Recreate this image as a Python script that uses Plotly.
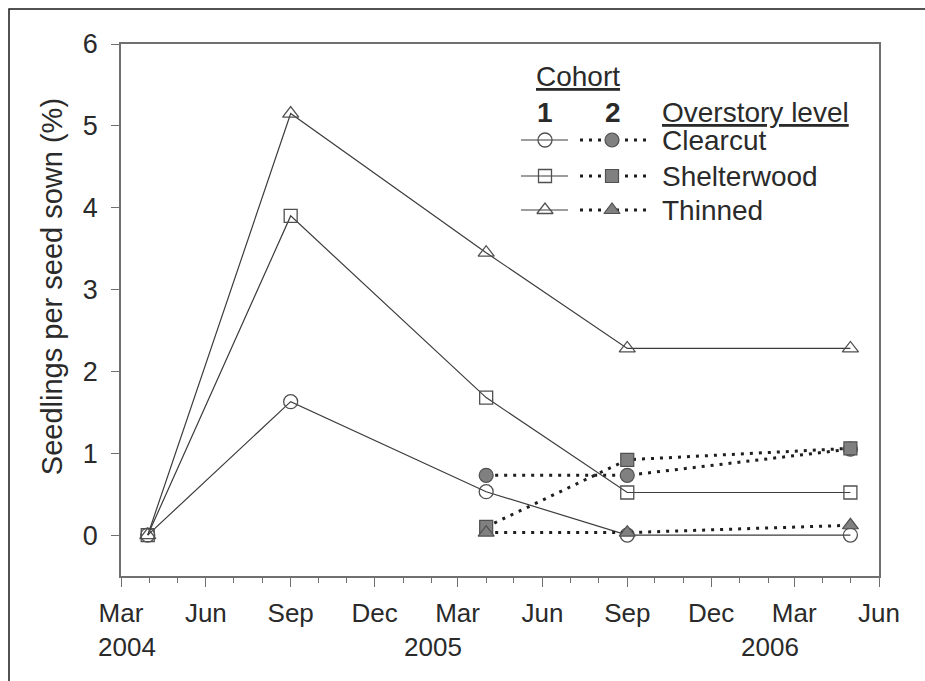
import plotly.graph_objects as go

# ---------------- data ----------------
dates_c1 = ["2004-03-30", "2004-09-01", "2005-04-01", "2005-09-01", "2006-05-01"]
dates_c2 = ["2005-04-01", "2005-09-01", "2006-05-01"]

clearcut_c1 = [0, 1.63, 0.53, 0.0, 0.0]
shelterwood_c1 = [0, 3.90, 1.68, 0.52, 0.52]
thinned_c1 = [0, 5.15, 3.45, 2.28, 2.28]

clearcut_c2 = [0.73, 0.73, 1.05]
shelterwood_c2 = [0.10, 0.92, 1.06]
thinned_c2 = [0.03, 0.03, 0.12]

levels = ["Clearcut", "Shelterwood", "Thinned"]
year_labels = ["2004", "2005", "2006"]
year_label_dates = ["2004-03-08", "2005-02-02", "2006-02-03"]

# ---------------- style ----------------
FONT = "Liberation Sans, Arial, sans-serif"
FS = 28
FT = 26
TXT = "#2a2a2a"
AX = "#707070"
LINE1 = "#3c3c3c"
DOT = "#1e1e1e"
FILL2 = "#808080"
MK_EDGE = "#505050"
open_sym = {"Clearcut": "circle-open", "Shelterwood": "square-open", "Thinned": "triangle-up-open"}
fill_sym = {"Clearcut": "circle", "Shelterwood": "square", "Thinned": "triangle-up"}
msize = {"Clearcut": 14, "Shelterwood": 13, "Thinned": 14}

fig = go.Figure()

c1 = {"Clearcut": clearcut_c1, "Shelterwood": shelterwood_c1, "Thinned": thinned_c1}
c2 = {"Clearcut": clearcut_c2, "Shelterwood": shelterwood_c2, "Thinned": thinned_c2}

for lv in levels:
    fig.add_trace(go.Scatter(
        x=dates_c1, y=c1[lv], mode="lines+markers",
        line=dict(color=LINE1, width=1.2),
        marker=dict(symbol=open_sym[lv], size=msize[lv], color=MK_EDGE,
                    line=dict(width=1.3, color=MK_EDGE)),
        showlegend=False, name=f"{lv} cohort 1"))

for lv in levels:
    fig.add_trace(go.Scatter(
        x=dates_c2, y=c2[lv], mode="lines+markers",
        line=dict(color=DOT, width=3, dash="3px,6px"),
        marker=dict(symbol=fill_sym[lv], size=msize[lv], color=FILL2,
                    line=dict(width=1.2, color=MK_EDGE)),
        showlegend=False, name=f"{lv} cohort 2"))

# ---------------- custom legend (on a pixel-like overlay axis) ----------------
PX_L, PX_R, PX_T, PX_B = 121, 879, 44, 576
leg_rows_y = [140, 176, 210]
seg1 = (521, 568, 545)
seg2 = (580, 647, 612)
for lv, ry in zip(levels, leg_rows_y):
    fig.add_trace(go.Scatter(x=[seg1[0], seg1[1]], y=[ry, ry], mode="lines",
                             line=dict(color=LINE1, width=1.2), xaxis="x2", yaxis="y2",
                             showlegend=False, hoverinfo="skip"))
    fig.add_trace(go.Scatter(x=[seg1[2]], y=[ry], mode="markers",
                             marker=dict(symbol=open_sym[lv], size=msize[lv], color=MK_EDGE,
                                         line=dict(width=1.3, color=MK_EDGE)),
                             xaxis="x2", yaxis="y2", showlegend=False, hoverinfo="skip"))
    fig.add_trace(go.Scatter(x=[seg2[0], seg2[1]], y=[ry, ry], mode="lines",
                             line=dict(color=DOT, width=3, dash="3px,6px"), xaxis="x2", yaxis="y2",
                             showlegend=False, hoverinfo="skip"))
    fig.add_trace(go.Scatter(x=[seg2[2]], y=[ry], mode="markers",
                             marker=dict(symbol=fill_sym[lv], size=msize[lv], color=FILL2,
                                         line=dict(width=1.2, color=MK_EDGE)),
                             xaxis="x2", yaxis="y2", showlegend=False, hoverinfo="skip"))

annotations = []
def ann2(text, x, y, xanchor="center", size=FS):
    annotations.append(dict(text=text, x=x, y=y, xref="x2", yref="y2", showarrow=False,
                            xanchor=xanchor, yanchor="middle",
                            font=dict(family=FONT, size=size, color=TXT)))

ann2("<u>Cohort</u>", 578, 76)
ann2("<b>1</b>", 545, 112)
ann2("<b>2</b>", 613, 112)
ann2("<u>Overstory level</u>", 660, 112, xanchor="left")
for lv, ry in zip(levels, leg_rows_y):
    ann2(lv, 660, ry, xanchor="left")

# year labels under the month ticks
for yl, yd in zip(year_labels, year_label_dates):
    annotations.append(dict(text=yl, x=yd, y=0, xref="x", yref="paper", showarrow=False,
                            xanchor="center", yanchor="middle", yshift=-71,
                            font=dict(family=FONT, size=FT, color=TXT)))

# y-axis title
annotations.append(dict(text="Seedlings per seed sown (%)", x=-0.091, y=0.543,
                        xref="paper", yref="paper", showarrow=False, textangle=-90,
                        xanchor="center", yanchor="middle",
                        font=dict(family=FONT, size=29, color=TXT)))

fig.update_layout(
    width=925, height=681,
    margin=dict(l=PX_L, r=925 - PX_R, t=PX_T, b=681 - PX_B),
    paper_bgcolor="white", plot_bgcolor="white",
    font=dict(family=FONT, size=FS, color=TXT),
    xaxis=dict(type="date", range=["2004-03-01", "2006-06-01"],
               tick0="2004-03-01", dtick="M3", tickformat="%b",
               ticks="outside", ticklen=9, tickwidth=1.2, tickcolor=AX,
               minor=dict(dtick="M1", tick0="2004-03-01", ticks="outside", ticklen=5,
                          tickwidth=1.2, tickcolor=AX, showgrid=False),
               showline=True, linecolor=AX, linewidth=1.5, mirror=True,
               showgrid=False, zeroline=False, ticklabelstandoff=4,
               tickfont=dict(family=FONT, size=FT, color=TXT)),
    yaxis=dict(range=[-0.5, 6], tick0=0, dtick=1,
               ticks="outside", ticklen=8, tickwidth=1.2, tickcolor=AX,
               showline=True, linecolor=AX, linewidth=1.5, mirror=True,
               showgrid=False, zeroline=False, ticklabelstandoff=8,
               tickfont=dict(family=FONT, size=FT + 1, color=TXT)),
    xaxis2=dict(overlaying="x", range=[PX_L, PX_R], visible=False, fixedrange=True),
    yaxis2=dict(overlaying="y", range=[PX_B, PX_T], visible=False, fixedrange=True),
    annotations=annotations,
    shapes=[dict(type="rect", xref="paper", yref="paper",
                 x0=(9 - PX_L) / (PX_R - PX_L), x1=1.3,
                 y0=-0.4, y1=(PX_B - 9) / (PX_B - PX_T),
                 line=dict(color="#1a1a1a", width=1.5), fillcolor="rgba(0,0,0,0)",
                 layer="above")],
)

fig.write_html("out.html")
